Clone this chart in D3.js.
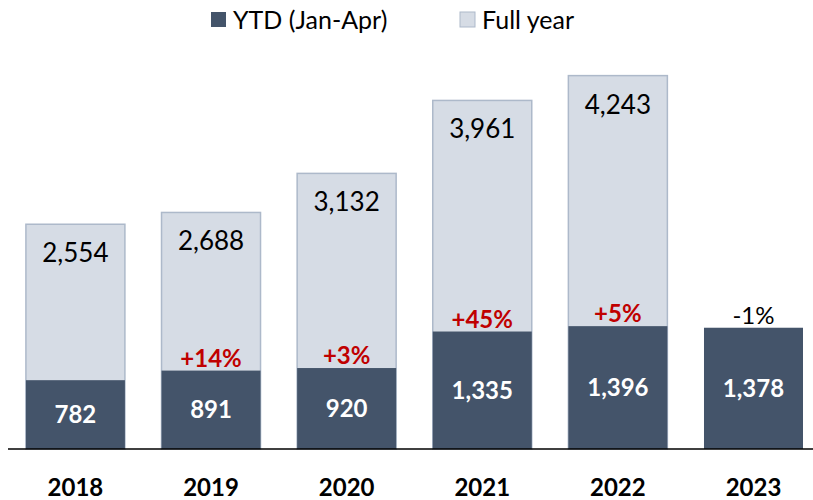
<!DOCTYPE html>
<html lang="en">
<head>
<meta charset="utf-8">
<title>YTD vs full year</title>
<style>
  body { margin: 0; background: #fff; }
  svg { display: block; font-family: Lato, "Open Sans", sans-serif; }
</style>
<script src="https://d3js.org/d3.v7.min.js"></script>
</head>
<body>
<script>
  const width = 813
  const height = 500

  const years = ["2018", "2019", "2020", "2021", "2022", "2023"]
  const ytdValues = [782, 891, 920, 1335, 1396, 1378]
  const fullYearValues = [2554, 2688, 3132, 3961, 4243, null]
  const changeLabels = ["", "+14%", "+3%", "+45%", "+5%", "-1%"]

  const darkColor = "#44546a"
  const lightColor = "#d6dce5"
  const lightStroke = "#adb9ca"
  const red = "#c00000"
  const baseY = 449

  const fmt = d3.format(",")

  const svg = d3.select("body").append("svg")
    .attr("width", width)
    .attr("height", height)

  const x = d3.scaleBand()
    .domain(years)
    .range([7.6, 821.3])
    .paddingInner(0.27)
    .paddingOuter(0.135)

  const y = d3.scaleLinear()
    .domain([0, 5000])
    .range([baseY, 9])

  // full year bars behind
  const full = years.map((yr, i) => ({ year: yr, value: fullYearValues[i] })).filter(d => d.value != null)
  svg.selectAll("rect.full")
    .data(full)
    .enter().append("rect")
    .attr("class", "full")
    .attr("x", d => x(d.year))
    .attr("y", d => y(d.value))
    .attr("width", x.bandwidth())
    .attr("height", d => baseY - y(d.value))
    .attr("fill", lightColor)
    .attr("stroke", lightStroke)
    .attr("stroke-width", 1.5)

  svg.selectAll("text.full")
    .data(full)
    .enter().append("text")
    .attr("class", "full")
    .attr("x", d => x(d.year) + x.bandwidth() / 2)
    .attr("y", d => y(d.value) + 38)
    .attr("text-anchor", "middle")
    .attr("font-size", 26)
    .attr("fill", "#000")
    .text(d => fmt(d.value))

  // YTD bars in front
  const ytd = years.map((yr, i) => ({ year: yr, value: ytdValues[i], change: changeLabels[i] }))
  svg.selectAll("rect.ytd")
    .data(ytd)
    .enter().append("rect")
    .attr("class", "ytd")
    .attr("x", d => x(d.year))
    .attr("y", d => y(d.value))
    .attr("width", x.bandwidth())
    .attr("height", d => baseY - y(d.value))
    .attr("fill", darkColor)

  svg.selectAll("text.ytd")
    .data(ytd)
    .enter().append("text")
    .attr("class", "ytd")
    .attr("x", d => x(d.year) + x.bandwidth() / 2)
    .attr("y", d => (y(d.value) + baseY) / 2 + 8.5)
    .attr("text-anchor", "middle")
    .attr("font-size", 24)
    .attr("font-weight", "bold")
    .attr("fill", "#fff")
    .text(d => fmt(d.value))

  svg.selectAll("text.change")
    .data(ytd.filter(d => d.change))
    .enter().append("text")
    .attr("class", "change")
    .attr("x", d => x(d.year) + x.bandwidth() / 2)
    .attr("y", d => y(d.value) - 4)
    .attr("text-anchor", "middle")
    .attr("font-size", 24)
    .attr("font-weight", d => d.year === "2023" ? "normal" : "bold")
    .attr("fill", d => d.year === "2023" ? "#000" : red)
    .text(d => d.change)

  // baseline
  svg.append("line")
    .attr("x1", 8).attr("x2", width)
    .attr("y1", baseY).attr("y2", baseY)
    .attr("stroke", "#000")
    .attr("stroke-width", 1.5)

  const xAxis = d3.axisBottom(x).tickSize(0).tickPadding(0)
  const gx = svg.append("g")
    .attr("transform", `translate(0,${baseY})`)
    .call(xAxis)
  gx.select(".domain").remove()
  gx.selectAll("text")
    .attr("y", 47)
    .attr("dy", 0)
    .attr("font-size", 24)
    .attr("font-weight", "bold")
    .attr("font-family", "Lato, 'Open Sans', sans-serif")
    .attr("fill", "#000")

  // legend
  const legendItems = [
    { label: "YTD (Jan-Apr)", fill: darkColor, stroke: "none", x: 211 },
    { label: "Full year", fill: lightColor, stroke: lightStroke, x: 460 }
  ]
  const legend = svg.append("g")
  const li = legend.selectAll("g")
    .data(legendItems)
    .enter().append("g")
    .attr("transform", d => `translate(${d.x},12)`)
  li.append("rect")
    .attr("width", 15).attr("height", 15)
    .attr("fill", d => d.fill)
    .attr("stroke", d => d.stroke)
  li.append("text")
    .attr("x", 22)
    .attr("y", 17)
    .attr("font-size", 25)
    .attr("fill", "#000")
    .text(d => d.label)
</script>
</body>
</html>
